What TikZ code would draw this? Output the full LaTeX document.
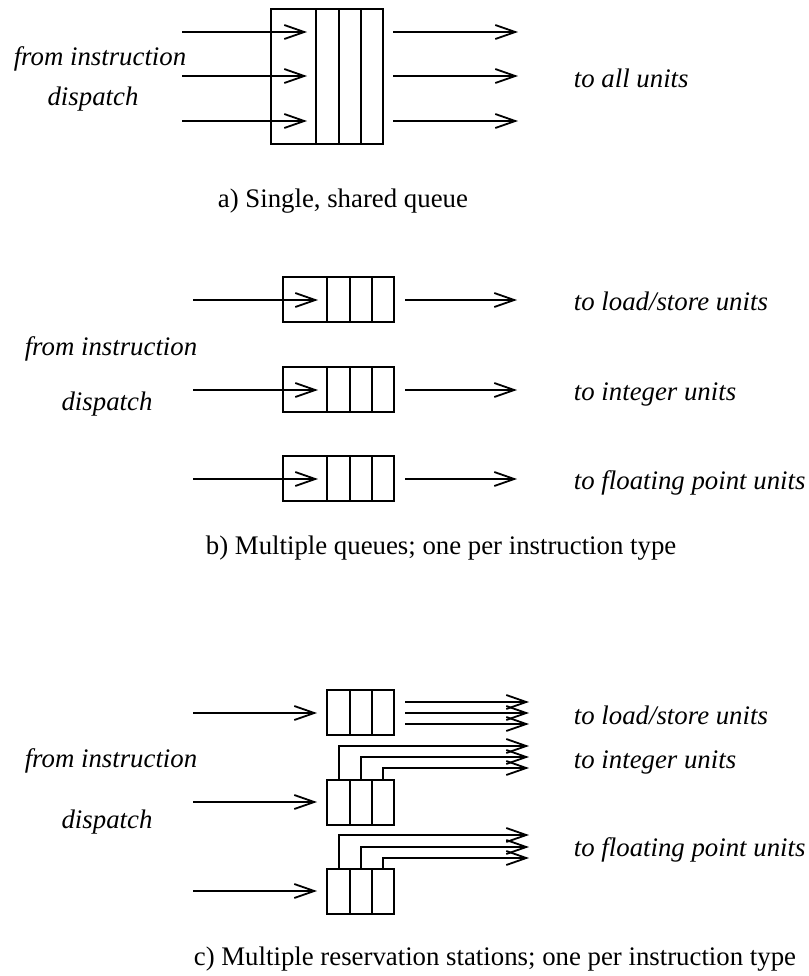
\documentclass[tikz,border=0pt]{standalone}
\usepackage{fontspec}
\setmainfont{Liberation Serif}[ItalicFont={Liberation Serif Italic}]
\usetikzlibrary{arrows.meta}
\begin{document}
\begin{tikzpicture}[>={Straight Barb[length=10pt,width=7pt]}, x=0.5pt, y=-0.5pt, line width=0.9pt,
  lbl/.style={font=\fontsize{13.4}{16}\selectfont\itshape, inner sep=0pt, anchor=base},
  unit/.style={lbl, anchor=base west},
  captext/.style={font=\fontsize{13.4}{16}\selectfont, inner sep=0pt, anchor=base west}]
\useasboundingbox (0,0) rectangle (809,976);

% a) one queue for everything
\draw (271,9) rectangle (383,144);
\foreach \x in {316,339,361} \draw (\x,9) -- (\x,144);
\foreach \y [count=\i] in {32,76,121}{
  \coordinate (ain\i) at (182,\y); \coordinate (aq\i) at (307,\y);
  \coordinate (aout\i) at (393,\y); \coordinate (aunit\i) at (518,\y);
  \draw[->] (ain\i) -- (aq\i);
  \draw[->] (aout\i) -- (aunit\i);
}
\node[lbl] (afrom) at (100,65) {from instruction};
\node[lbl] (adisp) at (93,105) {dispatch};
\node[unit] (aall) at (573,87) {to all units};
\node[captext] (acap) at (217,207) {a) Single, shared queue};

% b) one queue per type
\foreach \y/\t [count=\i] in {277/load\slash store units,367/integer units,456/floating point units}{
  \draw (283,\y) rectangle (394,\y+45);
  \foreach \x in {327,350,372} \draw (\x,\y) -- (\x,\y+45);
  \coordinate (bin\i) at (193,\y+23); \coordinate (bq\i) at (318,\y+23);
  \coordinate (bout\i) at (405,\y+23); \coordinate (bunit\i) at (517,\y+23);
  \draw[->] (bin\i) -- (bq\i);
  \draw[->] (bout\i) -- (bunit\i);
  \node[unit] (bto\i) at (573,\y+33) {to \t};
}
\node[lbl] (bfrom) at (111,355) {from instruction};
\node[lbl] (bdisp) at (107,410) {dispatch};
\node[captext] (bcap) at (205,554) {b) Multiple queues; one per instruction type};

% c) reservation stations
\foreach \y in {690,780,869}{
  \draw (327,\y) rectangle (394,\y+45);
  \foreach \x in {350,372} \draw (\x,\y) -- (\x,\y+45);
}
\coordinate (cin1) at (193,713); \coordinate (cq1) at (317,713);
\coordinate (cin2) at (193,802); \coordinate (cq2) at (317,802);
\coordinate (cin3) at (193,891); \coordinate (cq3) at (317,891);
\foreach \i in {1,2,3} \draw[->] (cin\i) -- (cq\i);
\foreach \y in {702,713,724} \draw[->] (405,\y) -- (529,\y);
\foreach \x/\y in {339/746,361/757,383/768} \draw[->] (\x,780) |- (529,\y);
\foreach \x/\y in {339/835,361/847,383/858} \draw[->] (\x,869) |- (529,\y);
\node[unit] (cto1) at (573,724) {to load/store units};
\node[unit] (cto2) at (573,768) {to integer units};
\node[unit] (cto3) at (573,856) {to floating point units};
\node[lbl] (cfrom) at (111,767) {from instruction};
\node[lbl] (cdisp) at (107,828) {dispatch};
\node[captext] (ccap) at (193,965) {c) Multiple reservation stations; one per instruction type};
\end{tikzpicture}
\end{document}
